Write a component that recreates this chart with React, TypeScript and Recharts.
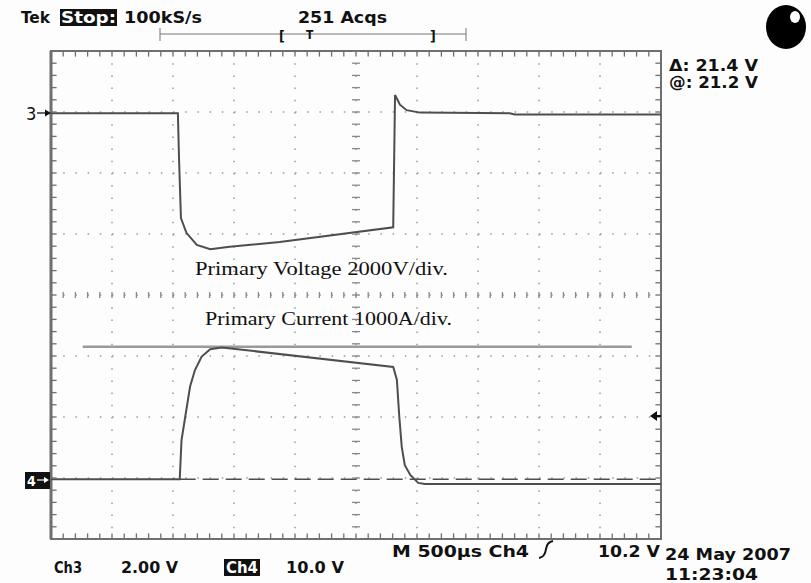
import React from "react";
import {
  ComposedChart,
  Line,
  Scatter,
  XAxis,
  YAxis,
  CartesianGrid,
  ReferenceArea,
  ReferenceLine,
} from "recharts";

// screen positions in divisions: x 0..10 (500us/div), y -4..4
const VOLT_T = [0, 2.08, 2.1, 2.13, 2.22, 2.39, 2.61, 2.93, 3.75, 5.61, 5.64, 5.68, 5.72, 5.83, 6.05, 7.52, 7.6, 10];
const VOLT_V = [2.98, 2.98, 2.2, 1.26, 1.02, 0.82, 0.75, 0.79, 0.87, 1.11, 3.28, 3.2, 3.12, 3.03, 2.99, 2.98, 2.96, 2.96];

const CUR_T = [0, 2.11, 2.14, 2.2, 2.28, 2.36, 2.47, 2.61, 2.8, 5.61, 5.67, 5.71, 5.75, 5.8, 5.89, 6.02, 6.13, 10];
const CUR_V = [-3.02, -3.02, -2.38, -2.0, -1.5, -1.23, -1.01, -0.89, -0.86, -1.18, -1.39, -2.0, -2.49, -2.79, -2.95, -3.08, -3.1, -3.1];

const REF_T = [2.11, 10];
const REF_V = [-3.02, -3.02];

const CURSOR_T = [0.52, 9.52];
const CURSOR_V = [-0.85, -0.85];

const MAJOR_X = [0, 1, 2, 3, 4, 5, 6, 7, 8, 9, 10];
const MAJOR_Y = [-4, -3, -2, -1, 0, 1, 2, 3, 4];
const MINOR_X = Array.from({ length: 51 }, (_, i) => +(i * 0.2).toFixed(1));
const MINOR_Y = Array.from({ length: 41 }, (_, i) => +(-4 + i * 0.2).toFixed(1));

const toRows = (t: number[], v: number[]) => t.map((x, i) => ({ t: x, v: v[i] }));

const voltage = toRows(VOLT_T, VOLT_V);
const current = toRows(CUR_T, CUR_V);
const refLine = toRows(REF_T, REF_V);
const cursor = toRows(CURSOR_T, CURSOR_V);
const centerH = MINOR_X.map((t) => ({ t, v: 0 }));
const centerV = MINOR_Y.map((v) => ({ t: 5, v }));
const edgeTop = MINOR_X.map((t) => ({ t, v: 3.99 }));
const edgeBottom = MINOR_X.map((t) => ({ t, v: -3.99 }));
const edgeLeft = MINOR_Y.map((v) => ({ t: 0.01, v }));
const edgeRight = MINOR_Y.map((v) => ({ t: 9.99, v }));

const W = 811;
const H = 583;
const FRAME = "#6f6f6f";
const TRACE = "#4e4e4e";
const scope = "'DejaVu Sans Condensed', 'DejaVu Sans', sans-serif";

const tick = (dx1: number, dy1: number, dx2: number, dy2: number, color = "#888") =>
  (p: any) => (
    <line x1={p.cx + dx1} y1={p.cy + dy1} x2={p.cx + dx2} y2={p.cy + dy2} stroke={color} strokeWidth={1.3} />
  );

const VTick = tick(0, -3, 0, 3);
const HTick = tick(-4, 0, 4, 0);
const TopTick = tick(0, -1, 0, 5, FRAME);
const BottomTick = tick(0, 1, 0, -5, FRAME);
const LeftTick = tick(-1, 0, 5, 0, FRAME);
const RightTick = tick(1, 0, -5, 0, FRAME);

function Overlay() {
  return (
    <svg
      width={W}
      height={H}
      style={{ position: "absolute", left: 0, top: 0, pointerEvents: "none" }}
    >
      <g fontFamily={scope} fontSize={16} fontWeight="bold" fill="#111">
        <text x={21} y={23} textLength={29} lengthAdjust="spacingAndGlyphs">Tek</text>
        <rect x={60} y={9} width={57} height={17} fill="#111" />
        <text x={61} y={23} fill="#fff" textLength={55} lengthAdjust="spacingAndGlyphs">Stop:</text>
        <text x={124} y={23} textLength={78} lengthAdjust="spacingAndGlyphs">100kS/s</text>
        <text x={298} y={23} textLength={89} lengthAdjust="spacingAndGlyphs">251 Acqs</text>

        <line x1={160} x2={466} y1={34} y2={34} stroke="#777" strokeWidth={1} />
        <line x1={160} x2={160} y1={28} y2={41} stroke="#777" strokeWidth={1} />
        <line x1={466} x2={466} y1={28} y2={41} stroke="#777" strokeWidth={1} />
        <text x={279} y={41} fontSize={14}>[</text>
        <text x={306} y={39} fontSize={12}>T</text>
        <text x={430} y={41} fontSize={14}>]</text>

        <ellipse cx={786} cy={27} rx={20} ry={22} fill="#000" />
        <ellipse cx={795} cy={17} rx={5} ry={6} fill="#fff" />

        <text x={669} y={71} fontSize={15} textLength={89} lengthAdjust="spacingAndGlyphs">Δ: 21.4 V</text>
        <text x={669} y={88} fontSize={15} textLength={89} lengthAdjust="spacingAndGlyphs">@: 21.2 V</text>

        <text x={26} y={120} fontSize={18} fontWeight="normal">3</text>
        <line x1={37} x2={47} y1={113} y2={113} stroke="#111" strokeWidth={1.3} />
        <polygon points="51,113 45,109.5 45,116.5" fill="#111" />

        <rect x={25} y={472} width={25} height={17} fill="#111" />
        <text x={27} y={486} fontSize={14} fill="#fff">4</text>
        <line x1={37} x2={45} y1={480} y2={480} stroke="#fff" strokeWidth={1.2} />
        <polygon points="49,480 44,477 44,483" fill="#fff" />

        <polygon points="650,416 657,411 657,421" fill="#111" />
        <line x1={656} x2={661} y1={416} y2={416} stroke="#111" strokeWidth={2} />

        <text x={392} y={557} textLength={137} lengthAdjust="spacingAndGlyphs">M  500µs  Ch4</text>
        <path d="M539 558 Q545 557 546 549 Q547 542 553 541" stroke="#111" strokeWidth={2} fill="none" />
        <text x={598} y={557} textLength={62} lengthAdjust="spacingAndGlyphs">10.2 V</text>

        <text x={665} y={560} textLength={126} lengthAdjust="spacingAndGlyphs">24 May 2007</text>
        <text x={665} y={580} textLength={93} lengthAdjust="spacingAndGlyphs">11:23:04</text>

        <text x={54} y={573} textLength={28} lengthAdjust="spacingAndGlyphs">Ch3</text>
        <text x={121} y={573} textLength={57} lengthAdjust="spacingAndGlyphs">2.00 V</text>
        <rect x={224} y={559} width={36} height={17} fill="#111" />
        <text x={226} y={573} fill="#fff" textLength={32} lengthAdjust="spacingAndGlyphs">Ch4</text>
        <text x={286} y={573} textLength={58} lengthAdjust="spacingAndGlyphs">10.0 V</text>
      </g>

      <g fontFamily="'Liberation Serif', 'Times New Roman', serif" fontSize={19} fill="#111">
        <text x={195} y={275} textLength={253} lengthAdjust="spacingAndGlyphs">
          Primary Voltage 2000V/div.
        </text>
        <text x={205} y={325} textLength={247} lengthAdjust="spacingAndGlyphs">
          Primary Current 1000A/div.
        </text>
      </g>
    </svg>
  );
}

export default function App() {
  return (
    <div style={{ position: "absolute", left: 0, top: 0, width: W, height: H, background: "#fdfdfd" }}>
      <ComposedChart
        width={W}
        height={H}
        margin={{ top: 51, right: 150, bottom: 44, left: 51 }}
      >
        <XAxis xAxisId="main" type="number" dataKey="t" domain={[0, 10]} ticks={MAJOR_X} hide allowDataOverflow />
        <YAxis yAxisId="main" type="number" dataKey="v" domain={[-4, 4]} ticks={MAJOR_Y} hide allowDataOverflow />

        <CartesianGrid xAxisId="main" yAxisId="main" stroke="#999" strokeWidth={1.5}
          strokeDasharray="1.5 10.7" />

        <ReferenceArea xAxisId="main" yAxisId="main" x1={0} x2={10} y1={-4} y2={4}
          fill="none" stroke={FRAME} strokeWidth={2} />
        <ReferenceLine xAxisId="main" yAxisId="main" x={0} stroke={FRAME} strokeWidth={3} />

        <Scatter xAxisId="main" yAxisId="main" data={centerH} dataKey="v" shape={VTick} isAnimationActive={false} />
        <Scatter xAxisId="main" yAxisId="main" data={centerV} dataKey="v" shape={HTick} isAnimationActive={false} />
        <Scatter xAxisId="main" yAxisId="main" data={edgeTop} dataKey="v" shape={TopTick} isAnimationActive={false} />
        <Scatter xAxisId="main" yAxisId="main" data={edgeBottom} dataKey="v" shape={BottomTick} isAnimationActive={false} />
        <Scatter xAxisId="main" yAxisId="main" data={edgeLeft} dataKey="v" shape={LeftTick} isAnimationActive={false} />
        <Scatter xAxisId="main" yAxisId="main" data={edgeRight} dataKey="v" shape={RightTick} isAnimationActive={false} />

        <Line xAxisId="main" yAxisId="main" data={cursor} dataKey="v" type="linear"
          stroke="#9a9a9a" strokeWidth={2.5} dot={false} isAnimationActive={false} />
        <Line xAxisId="main" yAxisId="main" data={refLine} dataKey="v" type="linear"
          stroke={TRACE} strokeWidth={1.6} strokeDasharray="16 7" dot={false} isAnimationActive={false} />
        <Line xAxisId="main" yAxisId="main" data={voltage} dataKey="v" type="linear"
          stroke={TRACE} strokeWidth={2} dot={false} isAnimationActive={false} />
        <Line xAxisId="main" yAxisId="main" data={current} dataKey="v" type="linear"
          stroke={TRACE} strokeWidth={2} dot={false} isAnimationActive={false} />
      </ComposedChart>
      <Overlay />
    </div>
  );
}
